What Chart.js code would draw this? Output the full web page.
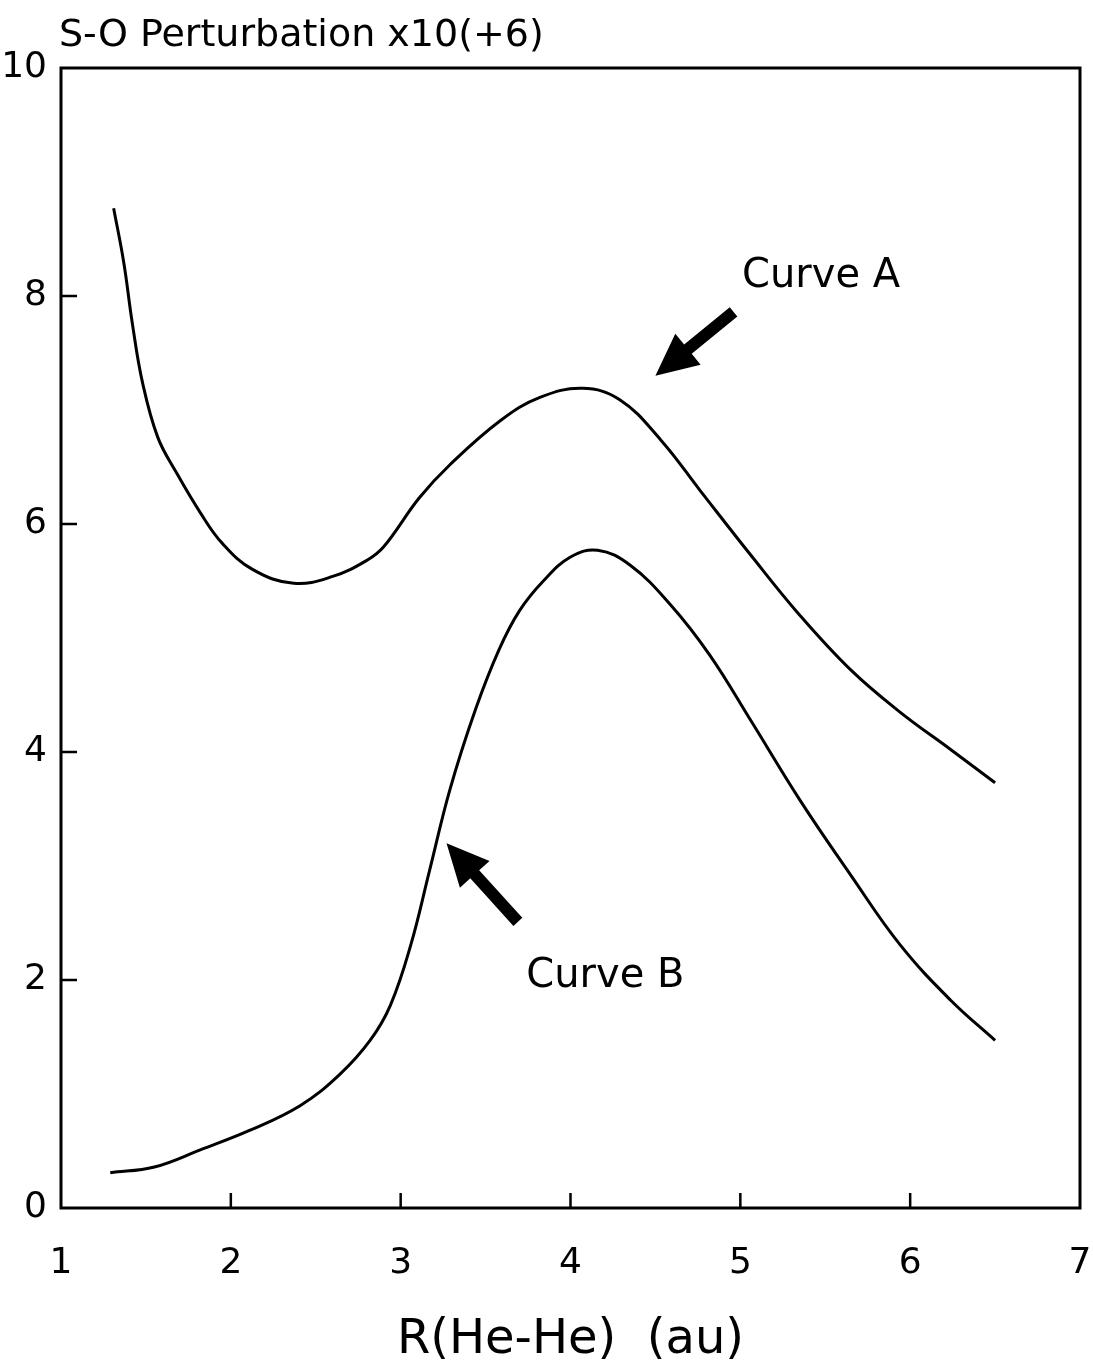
<!DOCTYPE html>
<html lang="en">
<head>
  <meta charset="UTF-8">
  <title>S-O Perturbation</title>
  <style>
    html, body {
      margin: 0;
      padding: 0;
      background: #ffffff;
    }
    #chartContainer {
      width: 1093px;
      height: 1369px;
    }
  </style>
</head>
<body>
  <div id="chartContainer">
    <canvas id="soChart"></canvas>
  </div>

  <script src="https://cdn.jsdelivr.net/npm/chart.js"></script>
  <script>
    // values
    const curveAx = [1.31, 1.37, 1.42, 1.48, 1.57, 1.68, 1.82, 1.95, 2.13, 2.37, 2.60, 2.80, 2.90, 3.11, 3.29, 3.59, 3.82, 4.07, 4.29, 4.53, 4.76, 5.06, 5.35, 5.65, 5.94, 6.24, 6.50];
    const curveAy = [8.77, 8.29, 7.76, 7.24, 6.76, 6.45, 6.10, 5.83, 5.60, 5.48, 5.54, 5.68, 5.80, 6.23, 6.52, 6.91, 7.11, 7.19, 7.09, 6.74, 6.30, 5.73, 5.20, 4.72, 4.35, 4.02, 3.73];

    const curveBx = [1.29, 1.55, 1.82, 2.11, 2.41, 2.64, 2.82, 2.94, 3.06, 3.17, 3.29, 3.44, 3.58, 3.70, 3.84, 4.00, 4.16, 4.35, 4.59, 4.82, 5.06, 5.35, 5.65, 5.94, 6.24, 6.50];
    const curveBy = [0.31, 0.36, 0.51, 0.68, 0.90, 1.17, 1.47, 1.78, 2.31, 2.96, 3.67, 4.37, 4.90, 5.24, 5.50, 5.71, 5.77, 5.64, 5.29, 4.85, 4.28, 3.58, 2.92, 2.31, 1.82, 1.47];

    const xTicks = [1, 2, 3, 4, 5, 6, 7];
    const yTicks = [0, 2, 4, 6, 8, 10];

    const yTitle = 'S-O Perturbation x10(+6)';
    const xTitle = 'R(He-He)  (au)';

    // annotations in data units: [tailX, tailY, tipX, tipY]
    const arrowA = [4.96, 7.86, 4.50, 7.30];
    const arrowB = [3.69, 2.51, 3.27, 3.20];
    const labelA = { text: 'Curve A', x: 5.01, y: 8.17 };
    const labelB = { text: 'Curve B', x: 3.74, y: 2.03 };

    const FONT = '"DejaVu Sans", sans-serif';

    function toPoints(xs, ys) {
      return xs.map((x, i) => ({ x: x, y: ys[i] }));
    }

    function drawArrow(ctx, x1, y1, x2, y2) {
      const ang = Math.atan2(y2 - y1, x2 - x1);
      const len = Math.hypot(x2 - x1, y2 - y1);
      const headLen = 42, headHalf = 20, shaftHalf = 6;
      ctx.save();
      ctx.translate(x1, y1);
      ctx.rotate(ang);
      ctx.beginPath();
      ctx.moveTo(0, -shaftHalf);
      ctx.lineTo(len - headLen, -shaftHalf);
      ctx.lineTo(len - headLen, -headHalf);
      ctx.lineTo(len, 0);
      ctx.lineTo(len - headLen, headHalf);
      ctx.lineTo(len - headLen, shaftHalf);
      ctx.lineTo(0, shaftHalf);
      ctx.closePath();
      ctx.fillStyle = '#000';
      ctx.fill();
      ctx.restore();
    }

    const framePlugin = {
      id: 'frame',
      afterDraw(chart) {
        const { ctx, chartArea: a, scales: { x, y } } = chart;
        ctx.save();
        ctx.strokeStyle = '#000';
        ctx.lineWidth = 3;
        ctx.strokeRect(a.left, a.top, a.right - a.left, a.bottom - a.top);

        // inward ticks
        ctx.lineWidth = 2.5;
        ctx.beginPath();
        xTicks.slice(1, -1).forEach(v => {
          const px = x.getPixelForValue(v);
          ctx.moveTo(px, a.bottom);
          ctx.lineTo(px, a.bottom - 15);
        });
        yTicks.slice(1, -1).forEach(v => {
          const py = y.getPixelForValue(v);
          ctx.moveTo(a.left, py);
          ctx.lineTo(a.left + 16, py);
        });
        ctx.stroke();

        // title above the frame
        ctx.fillStyle = '#000';
        ctx.font = '38px ' + FONT;
        ctx.textAlign = 'left';
        ctx.textBaseline = 'middle';
        ctx.fillText(yTitle, a.left - 2, a.top - 32);

        // arrows and curve labels
        [arrowA, arrowB].forEach(ar => {
          drawArrow(ctx, x.getPixelForValue(ar[0]), y.getPixelForValue(ar[1]),
                         x.getPixelForValue(ar[2]), y.getPixelForValue(ar[3]));
        });
        ctx.font = '40px ' + FONT;
        [labelA, labelB].forEach(l => {
          ctx.fillText(l.text, x.getPixelForValue(l.x), y.getPixelForValue(l.y));
        });
        ctx.restore();
      }
    };

    const lineStyle = {
      borderColor: '#000',
      borderWidth: 3,
      pointRadius: 0,
      fill: false,
      tension: 0.4
    };

    new Chart(document.getElementById('soChart'), {
      type: 'line',
      data: {
        datasets: [
          Object.assign({ label: 'Curve A', data: toPoints(curveAx, curveAy) }, lineStyle),
          Object.assign({ label: 'Curve B', data: toPoints(curveBx, curveBy) }, lineStyle)
        ]
      },
      options: {
        responsive: true,
        maintainAspectRatio: false,
        animation: false,
        layout: {
          padding: { left: 0, right: 13, top: 68, bottom: 0 }
        },
        plugins: {
          legend: { display: false },
          tooltip: { enabled: false }
        },
        scales: {
          x: {
            type: 'linear',
            min: 1,
            max: 7,
            afterBuildTicks: s => { s.ticks = xTicks.map(v => ({ value: v })); },
            afterFit: s => { s.height = 161; s.paddingLeft = 0; s.paddingRight = 0; },
            grid: { display: false, drawTicks: false },
            border: { display: false },
            ticks: {
              padding: 34,
              color: '#000',
              font: { family: FONT, size: 36 },
              maxRotation: 0
            },
            title: {
              display: true,
              text: xTitle,
              color: '#000',
              font: { family: FONT, size: 48 },
              padding: { top: 0, bottom: 0 }
            }
          },
          y: {
            type: 'linear',
            min: 0,
            max: 10,
            afterBuildTicks: s => { s.ticks = yTicks.map(v => ({ value: v })); },
            afterFit: s => { s.width = 61; s.paddingTop = 0; s.paddingBottom = 0; },
            grid: { display: false, drawTicks: false },
            border: { display: false },
            ticks: {
              padding: 14,
              color: '#000',
              font: { family: FONT, size: 36 }
            }
          }
        }
      },
      plugins: [framePlugin]
    });
  </script>
</body>
</html>
